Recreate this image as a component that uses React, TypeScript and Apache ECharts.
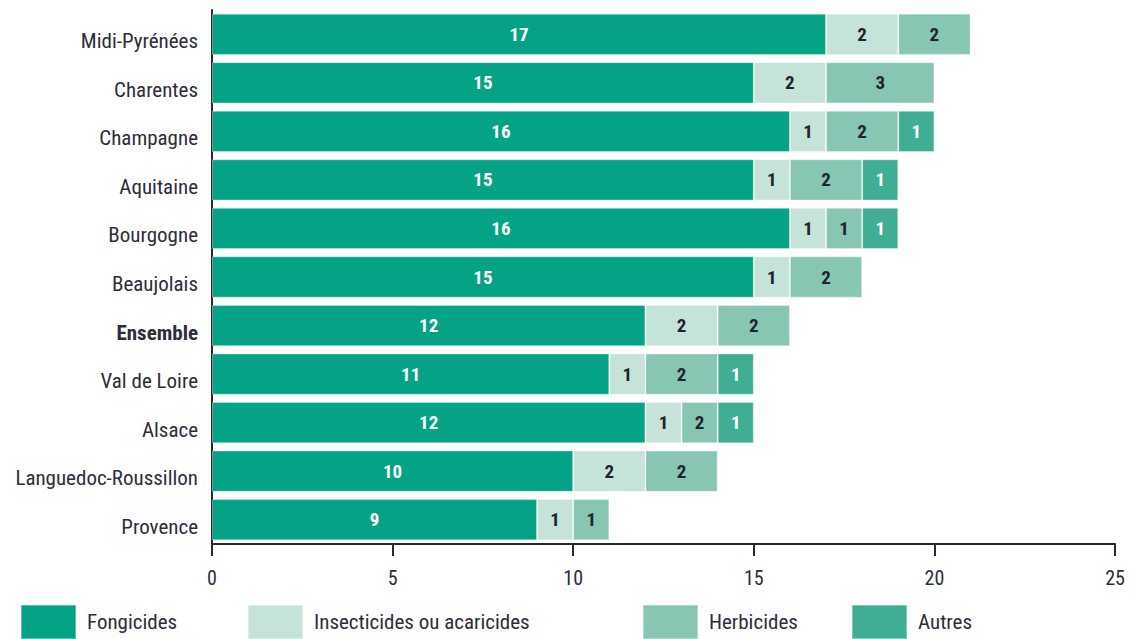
import React, { useEffect, useRef } from "react";
import * as echarts from "echarts";

const categories = [
  "Midi-Pyrénées",
  "Charentes",
  "Champagne",
  "Aquitaine",
  "Bourgogne",
  "Beaujolais",
  "Ensemble",
  "Val de Loire",
  "Alsace",
  "Languedoc-Roussillon",
  "Provence",
];

const fongicides = [17, 15, 16, 15, 16, 15, 12, 11, 12, 10, 9];
const insecticides = [2, 2, 1, 1, 1, 1, 2, 1, 1, 2, 1];
const herbicides = [2, 3, 2, 2, 1, 2, 2, 2, 1, 2, 1];
const herbicidesLabels = [2, 3, 2, 2, 1, 2, 2, 2, 2, 2, 1];
const autres = [null, null, 1, 1, 1, null, null, 1, 1, null, null];

const seriesNames = ["Fongicides", "Insecticides ou acaricides", "Herbicides", "Autres"];
const seriesColors = ["#05a386", "#c6e3d9", "#86c6b3", "#40ae95"];
const labelColors = ["#ffffff", "#22222e", "#22222e", "#ffffff"];
const xTicks = [0, 5, 10, 15, 20, 25];
const legendLeft = [20, 247, 642, 851];

const FONT = "'Roboto Condensed', 'Liberation Sans Narrow', Roboto, sans-serif";

export default function App() {
  const ref = useRef<HTMLDivElement>(null);

  useEffect(() => {
    if (!ref.current) return;
    const chart = echarts.init(ref.current, undefined, { renderer: "svg" });
    const dataSets = [fongicides, insecticides, herbicides, autres];
    const labelSets = [fongicides, insecticides, herbicidesLabels, autres];

    const series = seriesNames.map((name, i) => ({
      name,
      type: "bar",
      stack: "total",
      barCategoryGap: "15%",
      data: dataSets[i],
      itemStyle: {
        color: seriesColors[i],
        borderColor: "rgba(255,255,255,0.35)",
        borderWidth: 1,
      },
      label: {
        show: true,
        position: "inside",
        color: labelColors[i],
        fontFamily: FONT,
        fontWeight: "bold",
        fontSize: 19,
        padding: [4, 0, 0, 0],
        formatter: (p: any) => {
          const v = labelSets[i][p.dataIndex];
          return v == null ? "" : String(v);
        },
      },
      emphasis: { disabled: true },
    }));

    chart.setOption({
      animation: false,
      grid: { left: 212, right: 22, top: 10, bottom: 95, containLabel: false },
      legend: legendLeft.map((l, i) => ({
        data: [seriesNames[i]],
        left: l,
        top: 604,
        padding: 0,
        itemWidth: 55,
        itemHeight: 34,
        itemGap: 11,
        icon: "rect",
        selectedMode: false,
        textStyle: { fontFamily: FONT, fontSize: 21, color: "#2d2d3a", padding: [0, 0, 0, 6] },
      })),
      xAxis: {
        type: "value",
        min: 0,
        max: 25,
        interval: 5,
        splitLine: { show: false },
        axisLine: { show: true, lineStyle: { color: "#2a2a2a", width: 2 } },
        axisTick: { show: true, length: 12, lineStyle: { color: "#2a2a2a", width: 2 } },
        axisLabel: {
          margin: 24,
          fontFamily: FONT,
          fontSize: 20,
          color: "#2d2d3a",
          formatter: (v: number) => (xTicks.includes(v) ? String(v) : ""),
        },
      },
      yAxis: {
        type: "category",
        data: categories,
        inverse: true,
        axisLine: { show: true, lineStyle: { color: "#2a2a2a", width: 2 } },
        axisTick: { show: false },
        axisLabel: {
          margin: 14,
          fontFamily: FONT,
          fontSize: 21,
          color: "#2d2d3a",
          padding: [14, 0, 0, 0],
          formatter: (v: string) => (v === "Ensemble" ? "{b|" + v + "}" : v),
          rich: {
            b: { fontFamily: FONT, fontSize: 21, fontWeight: "bold", color: "#2d2d3a" },
          },
        },
      },
      series,
    });
    return () => chart.dispose();
  }, []);

  return (
    <div
      ref={ref}
      style={{ position: "fixed", left: 0, top: 0, width: 1137, height: 639, background: "#ffffff" }}
    />
  );
}
